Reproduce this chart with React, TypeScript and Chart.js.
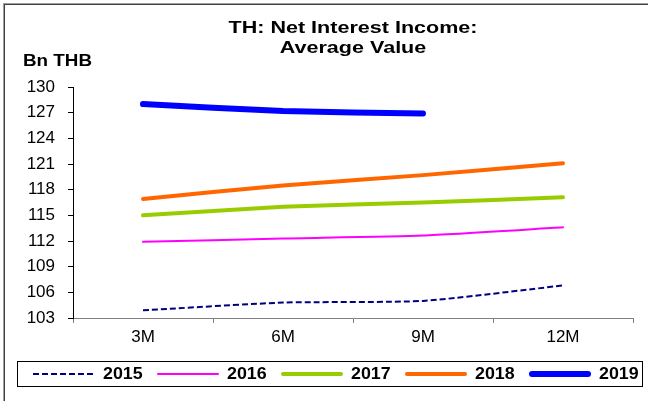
import React, { useEffect, useRef } from "react";
import { Chart, registerables } from "chart.js";

Chart.register(...registerables);

const categories = ["3M", "6M", "9M", "12M"];
const years = ["2015", "2016", "2017", "2018", "2019"];
const values2015 = [103.9, 104.8, 105.0, 106.8];
const values2016 = [111.9, 112.3, 112.65, 113.6];
const values2017 = [115.0, 116.0, 116.5, 117.1];
const values2018 = [116.9, 118.5, 119.7, 121.1];
const values2019 = [128.0, 127.2, 126.9, null];
const yMin = 103;
const yMax = 130;
const yStep = 3;
const titleLines = ["TH: Net Interest Income:", "Average Value"];
const yUnit = "Bn THB";

const FONT = "'Liberation Sans', Arial, sans-serif";

const styles = [
  { color: "#000080", width: 2, dash: [6, 3], cap: "butt" },
  { color: "#FF00FF", width: 2, dash: [], cap: "round" },
  { color: "#99CC00", width: 4, dash: [], cap: "round" },
  { color: "#FF6600", width: 4, dash: [], cap: "round" },
  { color: "#0000FF", width: 6, dash: [], cap: "round" },
];

function drawStretched(ctx: any, text: string, x: number, y: number, sx: number, align: string) {
  ctx.save();
  ctx.translate(x, y);
  ctx.scale(sx, 1);
  ctx.textAlign = align;
  ctx.fillText(text, 0, 0);
  ctx.restore();
}

const decorPlugin = {
  id: "decor",
  beforeDraw(chart: any) {
    const ctx = chart.ctx;
    ctx.save();
    ctx.fillStyle = "#ffffff";
    ctx.fillRect(0, 0, chart.width, chart.height);
    ctx.fillStyle = "#a0a0a0";
    ctx.fillRect(3, 3, chart.width - 3, 1);
    ctx.fillRect(3, 3, 1, chart.height - 3);
    ctx.fillStyle = "#404040";
    ctx.fillRect(4, 4, chart.width - 4, 1);
    ctx.fillRect(4, 4, 1, chart.height - 4);
    ctx.restore();
  },
  afterDraw(chart: any) {
    const ctx = chart.ctx;
    const area = chart.chartArea;
    ctx.save();
    ctx.fillStyle = "#000";
    ctx.textBaseline = "alphabetic";
    ctx.font = `bold 16.5px ${FONT}`;
    const cx = (area.left + area.right) / 2;
    const w0 = ctx.measureText(titleLines[0]).width;
    const sx = 249 / w0;
    titleLines.forEach((t, i) => drawStretched(ctx, t, cx, 33.3 + i * 20, sx, "center"));

    ctx.font = `bold 16.5px ${FONT}`;
    const wu = ctx.measureText(yUnit).width;
    drawStretched(ctx, yUnit, 23, 66, 69 / wu, "left");

    // legend box
    ctx.strokeStyle = "#000";
    ctx.lineWidth = 1;
    ctx.strokeRect(17.5, 361.5, 625, 25);
    const ly = 374;
    chart.data.datasets.forEach((ds: any, i: number) => {
      const x0 = 33 + i * 124;
      const s = styles[i];
      ctx.beginPath();
      ctx.strokeStyle = ds.borderColor;
      ctx.lineWidth = ds.borderWidth;
      ctx.lineCap = s.cap;
      ctx.setLineDash(s.dash);
      const inset = s.cap === "round" ? ds.borderWidth / 2 : 0;
      ctx.moveTo(x0 + inset, ly);
      ctx.lineTo(x0 + 62 - inset, ly);
      ctx.stroke();
      ctx.setLineDash([]);
      ctx.fillStyle = "#000";
      ctx.font = `bold 16.5px ${FONT}`;
      ctx.textBaseline = "middle";
      drawStretched(ctx, ds.label, x0 + 70, ly, 1.08, "left");
    });
    ctx.restore();
  },
};

export default function App() {
  const ref = useRef<HTMLCanvasElement>(null);
  useEffect(() => {
    if (!ref.current) return;
    const series = [values2015, values2016, values2017, values2018, values2019];
    const chart = new Chart(ref.current, {
      type: "line",
      data: {
        labels: categories,
        datasets: series.map((vals, i) => ({
          label: years[i],
          data: vals,
          borderColor: styles[i].color,
          backgroundColor: styles[i].color,
          borderWidth: styles[i].width,
          borderDash: styles[i].dash,
          borderCapStyle: styles[i].cap as any,
          borderJoinStyle: "round" as any,
          pointRadius: 0,
          pointHoverRadius: 0,
          fill: false,
          tension: 0.2,
          spanGaps: false,
        })),
      },
      options: {
        responsive: false,
        animation: false,
        devicePixelRatio: 1,
        layout: { padding: { top: 87, right: 15, left: 0, bottom: 0 } },
        plugins: {
          legend: { display: false },
          title: { display: false },
          tooltip: { enabled: false },
        },
        scales: {
          x: {
            offset: true,
            grid: {
              offset: true,
              drawOnChartArea: false,
              drawTicks: true,
              tickLength: 5,
              color: "#808080",
            },
            border: { display: true, color: "#808080", width: 1 },
            ticks: {
              color: "#000",
              font: { family: FONT, size: 17 },
              padding: 4,
              maxRotation: 0,
            },
            afterFit: (scale: any) => {
              scale.height = 83;
            },
          },
          y: {
            min: yMin,
            max: yMax,
            grid: {
              drawOnChartArea: false,
              drawTicks: true,
              tickLength: 5,
              color: "#000",
            },
            border: { display: true, color: "#000", width: 1 },
            ticks: {
              stepSize: yStep,
              color: "#000",
              font: { family: FONT, size: 17 },
              padding: 13,
            },
            afterFit: (scale: any) => {
              scale.width = 73;
            },
          },
        },
      },
      plugins: [decorPlugin],
    });
    return () => chart.destroy();
  }, []);
  return (
    <div style={{ position: "fixed", left: 0, top: 0, width: 648, height: 401, background: "#fff" }}>
      <canvas ref={ref} width={648} height={401} style={{ display: "block" }} />
    </div>
  );
}
